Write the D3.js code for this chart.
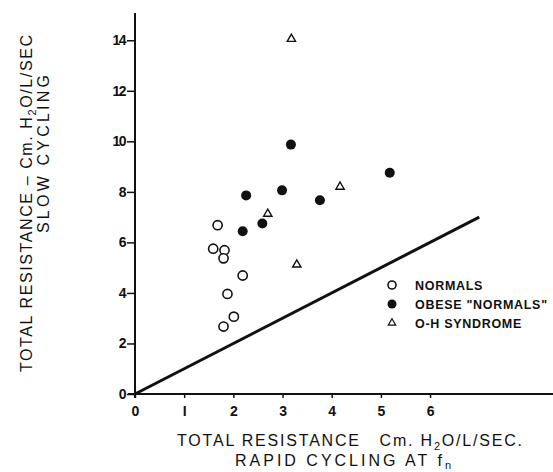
<!DOCTYPE html>
<html>
<head>
<meta charset="utf-8">
<script src="https://cdn.jsdelivr.net/npm/d3@7"></script>
<style>
body { margin: 0; background: #fff; }
text { font-family: "Liberation Sans", Arial, sans-serif; fill: #111; }
</style>
</head>
<body>
<script>
// values
var normalsX = [1.68, 1.59, 1.82, 1.80, 2.19, 1.88, 2.01, 1.80];
var normalsY = [6.68, 5.75, 5.69, 5.37, 4.69, 3.96, 3.06, 2.67];
var obeseX = [2.26, 2.99, 3.76, 2.59, 2.19, 3.17, 5.18];
var obeseY = [7.86, 8.06, 7.67, 6.75, 6.44, 9.87, 8.76];
var ohX = [3.18, 2.70, 3.29, 4.17];
var ohY = [14.05, 7.13, 5.12, 8.20];
var identityLine = [0, 7];
var xTicks = [0, 1, 2, 3, 4, 5, 6];
var yTicks = [0, 2, 4, 6, 8, 10, 12, 14];
var legendLabels = ["NORMALS", "OBESE \"NORMALS\"", "O-H SYNDROME"];

var w = 553, h = 472;
var svg = d3.select("body").append("svg")
    .attr("width", w)
    .attr("height", h);

var x = d3.scaleLinear().domain([0, 8.5]).range([135, 553]);
var y = d3.scaleLinear().domain([0, 15]).range([394, 15]);

// axes
var xAxis = d3.axisBottom(x).tickValues(xTicks).tickSize(4).tickFormat(function(d){ return d === 1 ? "I" : d; });
var gx = svg.append("g")
    .attr("transform", "translate(0," + y(0) + ")")
    .call(xAxis);
gx.select(".domain").attr("d", "M128,0H553").attr("stroke", "#111").attr("stroke-width", 2);
gx.selectAll(".tick line").attr("stroke", "#111").attr("stroke-width", 1.5);
gx.selectAll(".tick text")
    .attr("y", 12)
    .style("font-size", "14px")
    .style("font-weight", "bold")
    .style("font-family", "\"Liberation Sans\", Arial, sans-serif")
    .attr("fill", "#111");

var yAxis = d3.axisLeft(y).tickValues(yTicks).tickSize(8).tickPadding(2);
var gy = svg.append("g")
    .attr("transform", "translate(" + x(0) + ",0)")
    .call(yAxis);
gy.select(".domain").attr("d", "M0,13V398").attr("stroke", "#111").attr("stroke-width", 2);
gy.selectAll(".tick line").attr("stroke", "#111").attr("stroke-width", 1.5);
gy.selectAll(".tick text")
    .style("font-size", "14px")
    .style("font-weight", "bold")
    .style("font-family", "\"Liberation Sans\", Arial, sans-serif")
    .style("letter-spacing", "-1.5px")
    .attr("fill", "#111");

// line of identity
svg.append("line")
    .attr("x1", x(identityLine[0])).attr("y1", y(identityLine[0]))
    .attr("x2", x(identityLine[1])).attr("y2", y(identityLine[1]))
    .attr("stroke", "#111")
    .attr("stroke-width", 3);

// points
var tri = d3.symbol().type(d3.symbolTriangle).size(30);

svg.selectAll(".normal")
    .data(normalsX)
    .enter().append("circle")
    .attr("class", "normal")
    .attr("cx", function(d){ return x(d); })
    .attr("cy", function(d, i){ return y(normalsY[i]); })
    .attr("r", 4.6)
    .attr("fill", "#fff")
    .attr("stroke", "#111")
    .attr("stroke-width", 1.6);

svg.selectAll(".obese")
    .data(obeseX)
    .enter().append("circle")
    .attr("class", "obese")
    .attr("cx", function(d){ return x(d); })
    .attr("cy", function(d, i){ return y(obeseY[i]); })
    .attr("r", 5)
    .attr("fill", "#111");

svg.selectAll(".oh")
    .data(ohX)
    .enter().append("path")
    .attr("class", "oh")
    .attr("d", tri)
    .attr("transform", function(d, i){ return "translate(" + x(d) + "," + y(ohY[i]) + ")"; })
    .attr("fill", "#fff")
    .attr("stroke", "#111")
    .attr("stroke-width", 1.4);

// legend
var legend = svg.append("g").attr("transform", "translate(392,285)");
legendLabels.forEach(function(lab, i){
    var g = legend.append("g").attr("transform", "translate(0," + (i * 19) + ")");
    if (i === 0) {
        g.append("circle").attr("r", 4).attr("fill", "#fff").attr("stroke", "#111").attr("stroke-width", 1.6);
    } else if (i === 1) {
        g.append("circle").attr("r", 4.5).attr("fill", "#111");
    } else {
        g.append("path").attr("d", d3.symbol().type(d3.symbolTriangle).size(24)).attr("fill", "#fff").attr("stroke", "#111").attr("stroke-width", 1.2);
    }
    g.append("text")
        .attr("x", 23)
        .attr("y", 4.5)
        .style("font-size", "12.5px")
        .style("font-weight", "bold")
        .style("letter-spacing", "0.7px")
        .text(lab);
});

// x axis title
var xt1 = svg.append("text")
    .attr("x", 177).attr("y", 446)
    .attr("textLength", 345).attr("lengthAdjust", "spacing")
    .style("font-size", "16px");
xt1.append("tspan").text("TOTAL RESISTANCE\u00a0\u00a0\u00a0Cm. H");
xt1.append("tspan").attr("dy", 4).style("font-size", "11px").text("2");
xt1.append("tspan").attr("dy", -4).text("O/L/SEC.");

var xt2 = svg.append("text")
    .attr("x", 235).attr("y", 466)
    .attr("textLength", 216).attr("lengthAdjust", "spacing")
    .style("font-size", "16px");
xt2.append("tspan").text("RAPID CYCLING AT f");
xt2.append("tspan").attr("dy", 3).style("font-size", "11px").text("n");

// y axis title
var yt1 = svg.append("text")
    .attr("transform", "translate(32,372) rotate(-90)")
    .attr("textLength", 337).attr("lengthAdjust", "spacing")
    .style("font-size", "16px");
yt1.append("tspan").text("TOTAL RESISTANCE \u2013 Cm. H");
yt1.append("tspan").attr("dy", 4).style("font-size", "11px").text("2");
yt1.append("tspan").attr("dy", -4).text("O/L/SEC");

svg.append("text")
    .attr("transform", "translate(49,233) rotate(-90)")
    .attr("textLength", 158).attr("lengthAdjust", "spacing")
    .style("font-size", "16px")
    .text("SLOW CYCLING");
</script>
</body>
</html>
